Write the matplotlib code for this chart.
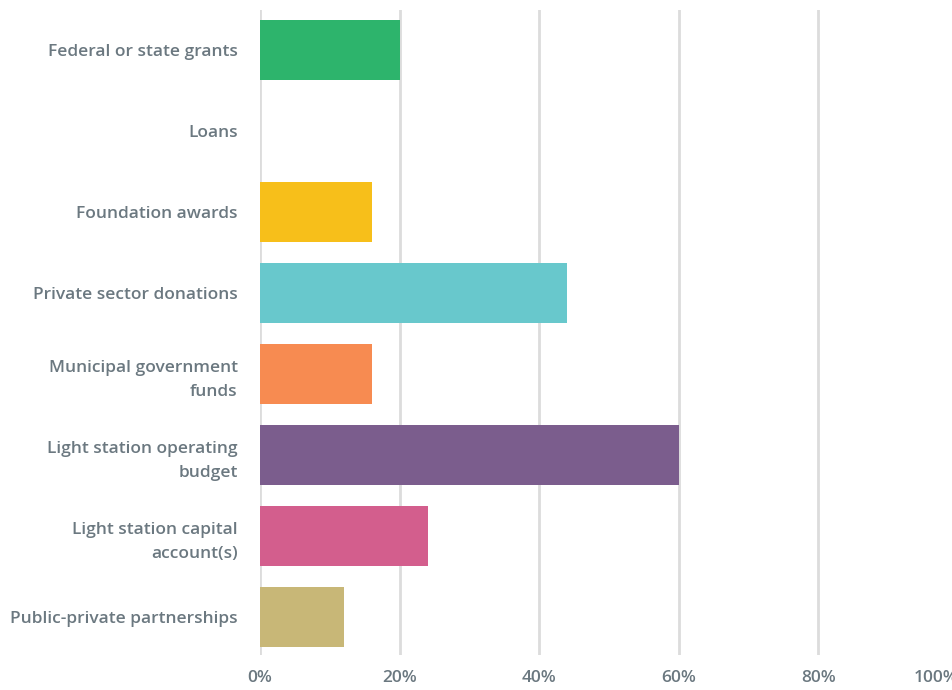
import matplotlib.pyplot as plt
from matplotlib.ticker import FuncFormatter

categories = [
    "Federal or state grants",
    "Loans",
    "Foundation awards",
    "Private sector donations",
    "Municipal government\nfunds",
    "Light station operating\nbudget",
    "Light station capital\naccount(s)",
    "Public-private partnerships",
]
values = [20, 0, 16, 44, 16, 60, 24, 12]
colors = ["#2db46c", "#f7bf1a", "#f7bf1a", "#68c8cc", "#f78b51",
          "#7b5d8d", "#d35e8d", "#c8b777"]
xticks = [0, 20, 40, 60, 80, 100]

text_color = "#6b7880"
plt.rcParams['font.family'] = ['Open Sans', 'DejaVu Sans']

fig = plt.figure(figsize=(9.52, 6.9), dpi=100)
ax = fig.add_axes([260 / 952, 35 / 690, 698 / 952, 645 / 690])

ypos = list(range(len(categories)))
ax.barh(ypos, values, height=0.74, color=colors, zorder=3, linewidth=0)

ax.set_xlim(0, 100)
ax.set_ylim(len(categories) - 0.53, -0.49)
ax.set_xticks(xticks)
ax.xaxis.set_major_formatter(FuncFormatter(lambda v, _: f"{v:.0f}%"))
ax.set_yticks(ypos)
ax.set_yticklabels(categories, linespacing=1.7)

ax.grid(axis="x", color="#dcdcdc", linewidth=2, zorder=0)
for s in ax.spines.values():
    s.set_visible(False)
ax.tick_params(axis="both", length=0, colors=text_color, labelsize=12.5)
ax.tick_params(axis="y", pad=16)
ax.tick_params(axis="x", pad=11)
for lbl in ax.get_xticklabels() + ax.get_yticklabels():
    lbl.set_fontweight("semibold")
# last tick label sits flush against its gridline
ax.get_xticklabels()[-1].set_horizontalalignment("right")

fig.savefig("out.png", dpi=100)
